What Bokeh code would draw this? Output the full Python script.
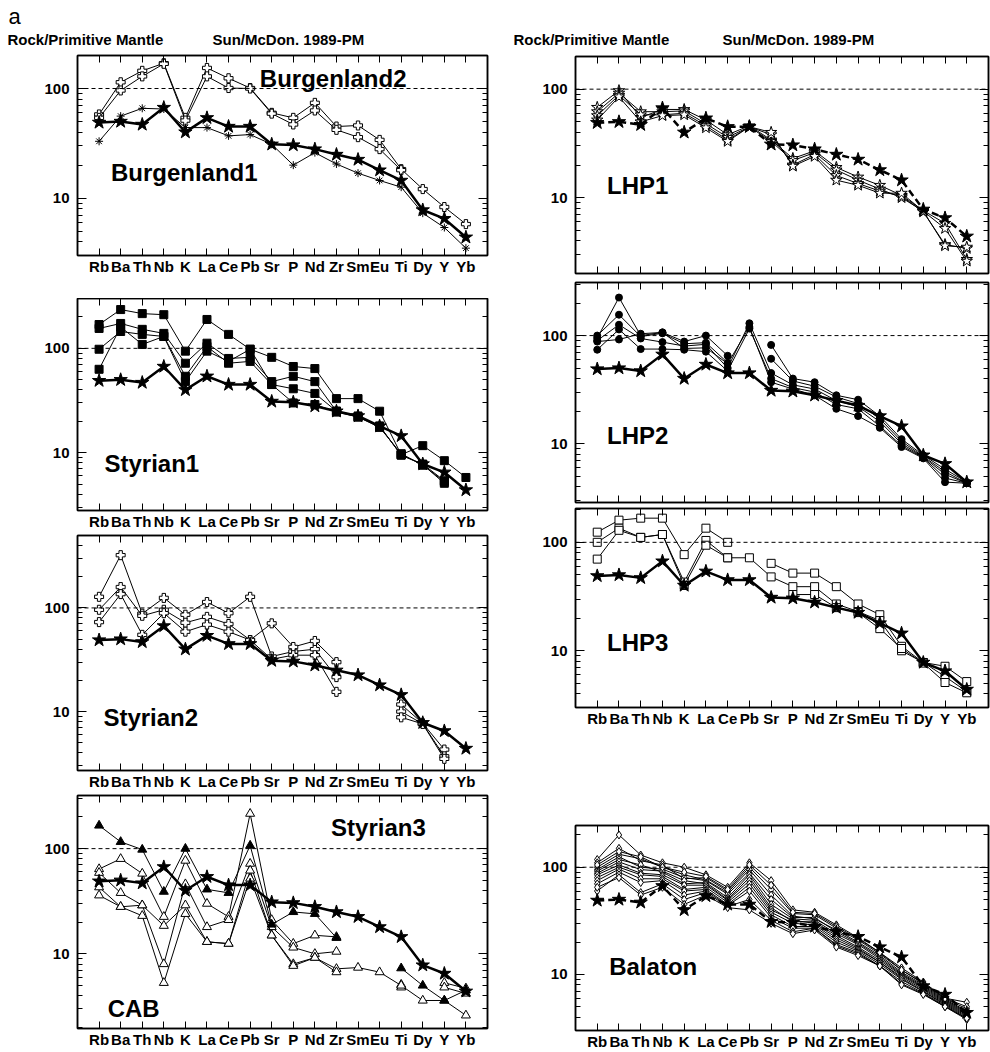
import numpy as np
from bokeh.plotting import figure
from bokeh.layouts import column, row
from bokeh.models import (Range1d, FixedTicker, LinearAxis, LogAxis,
                          CustomJSTickFormatter, BasicTickFormatter, Span)
from bokeh.core.properties import value
from bokeh.embed import file_html
from bokeh.resources import INLINE

FONT = "Liberation Sans"

ELEMENTS = ["Rb", "Ba", "Th", "Nb", "K", "La", "Ce", "Pb", "Sr", "P",
            "Nd", "Zr", "Sm", "Eu", "Ti", "Dy", "Y", "Yb"]
Y_MAJOR = [10, 100]
Y_MINOR = [2, 3, 4, 5, 6, 7, 8, 9, 20, 30, 40, 50, 60, 70, 80, 90,
           200, 300, 400, 500, 600, 700, 800, 900]

nan = float("nan")

# reference (stars, thick line) shown in every panel
REFERENCE = [49, 50, 47, 67, 40, 54, 45, 45, 31, 30.5, 28, 25, 22.5, 18, 14.5, 7.8, 6.5, 4.4]

BURGENLAND2 = [
    [58, 114, 145, 170, 54, 154, 124, 101, 60, 54, 74, 45, 46, 34, 18.4, 12.1, 8.3, 5.8],
    [54, 96, 129, 168, 51, 129, 101, 100, 59, 47, 63, 42, 36, 28, 18, nan, nan, nan],
]
BURGENLAND1 = [
    [33, 56, 66, 65, 44, 44, 37, 38, 31, 20, 26, 20.5, 16.9, 14.5, 12.6, 7.3, 5.4, 3.5],
]
STYRIAN1 = [
    [169, 235, 215, 210, 94, 189, 136, 98, 82, 67, 64, 33, 33, 25, 9.6, 11.7, 8.4, 5.8],
    [155, 173, 152, 139, 72, 112, 80, 82, 48, 54, 48, 25, 22, 18, 9.5, 7.8, 5.4, nan],
    [98, 145, 136, 130, 54, 104, 72, 75, 45, 41, 37, 25, 22.5, 18, 9.5, 7.7, 5.1, nan],
    [63, 160, 109, 130, 48, 94, 75, 98, 45, 30, 29, 24.5, 22, 17.5, 9.8, 7.6, 5.3, nan],
]
STYRIAN2 = [
    [128, 323, 88, 125, 86, 114, 89, 128, 34, 38, 40, 21.5, nan, nan, 11.7, 7.7, 4.3, nan],
    [96, 159, 84, 96, 72, 82, 70, 49, 71, 42, 48, 30, nan, nan, 10, 7.6, 3.7, nan],
    [73, 136, 55, 89, 59, 69, 59, 49, 32, 35, 35, 15.5, nan, nan, 8.8, 7.6, 3.5, nan],
]
STYRIAN3_FILLED = [
    [166, 116, 98, 39, 100, 41, 38, 107, 19, 25, 24, 14.2, nan, nan, 7.3, 5.0, 3.6, 4.5],
]
CAB_OPEN = [
    [64, 80, 58, 22.5, 77, 30, 22.5, 215, 21, 12.5, 15, 14.5, nan, nan, 5.1, nan, 5.3, 4.7],
    [59, 38, 29, 8, 46, 18, 21, 72, 18, 11.5, 10, 10.5, nan, nan, 4.8, nan, 4.8, 4.2],
    [43, 28, 29, 18.5, 29, 13, 12.5, 62, 15, 8, 9.2, 7.2, 7.4, 6.7, 5.0, 3.6, 3.6, 2.6],
    [36, 28, 23, 5.3, 24, 13, 12.5, 52, 15, 7.7, 9.2, 6.7, nan, nan, nan, nan, nan, nan],
]
LHP1 = [
    [68, 97, 55, 65, 65, 52, 38, 46, 34, 23, 27, 19, 15.5, 13, 10.5, 7.6, 5.8, 2.7],
    [62, 92, 62, 62, 63, 48, 36, 45, 33, 22, 26, 18, 14.5, 12, 10, 7.5, 5.2, 2.6],
    [57, 88, 58, 58, 60, 46, 34, 45, 38, 20, 25, 16, 13.5, 11.5, 10.3, 7.4, 3.7, 3.4],
    [52, 85, 50, 57, 58, 44, 33, 45, 40, 19.5, 24, 14.5, 13, 11, 11, 7.5, 3.6, 3.5],
]
LHP2 = [
    [95, 225, 100, 107, 88, 100, 65, nan, 82, 40, 37, 28, 25.5, 18, 11, 7.8, 5.8, 4.4],
    [100, 156, 98, 105, 84, 86, 56, nan, 61, 38, 34, 27, 23.5, 17, 10.5, 7.6, 5.5, 4.3],
    [90, 126, 94, 87, 80, 83, 50, 130, 45, 35, 32, 25, 22, 16, 10, 7.5, 5.2, 4.3],
    [74, 114, 75, 75, 74, 71, 47, 116, 40, 33, 30, 23, 21, 14.5, 9.6, 7.4, 4.8, 4.3],
    [88, 92, 104, 107, 76, 77, 55, 120, 37, 32, 28, 21, 18, 14, 9.3, 7.3, 4.4, 4.3],
]
LHP3 = [
    [124, 160, 167, 167, 77, 135, 100, nan, 64, 52, 52, 39, 27, 21.5, 11, 7.8, 7.2, 5.2],
    [100, 135, 111, 118, 43, 104, 72, 72, 48, 39, 39, 27, 23, 19, 10, 7.8, 5.8, 4.2],
    [70, 129, 111, 118, 40, 94, 72, nan, nan, 33, 33, 25, 22.5, 16, 10.5, 7.7, 5.1, 4.1],
]
BALATON = [
    [118, 200, 130, 110, 100, 85, 65, 110, 75, 40, 38, 29, 22, 16, 11.5, 8.5, 6.0, 5.5],
    [110, 150, 115, 105, 78, 80, 60, 100, 62, 37, 36, 27, 21, 15.5, 11, 8.2, 5.9, 4.8],
    [100, 132, 120, 100, 85, 76, 58, 95, 55, 35, 33, 26, 20, 15, 10.5, 8.0, 5.8, 4.6],
    [95, 125, 100, 96, 80, 75, 56, 88, 50, 34, 34, 25, 19.5, 14.5, 10.2, 7.8, 5.7, 4.5],
    [92, 118, 105, 90, 70, 72, 52, 85, 45, 33, 32, 24, 19, 14, 10, 7.6, 5.6, 4.4],
    [88, 112, 95, 92, 75, 70, 50, 80, 42, 31, 31, 23, 18, 13.5, 9.8, 7.4, 5.5, 4.3],
    [85, 105, 88, 85, 68, 68, 49, 75, 40, 32, 30, 22, 17.5, 13, 9.5, 7.2, 5.4, 4.2],
    [80, 100, 85, 82, 62, 65, 47, 70, 38, 30, 29, 21, 17, 13, 9.2, 7.0, 5.3, 4.1],
    [75, 96, 78, 78, 60, 62, 45, 65, 36, 28, 28, 20, 16.5, 12.5, 9, 6.9, 5.2, 4.0],
    [70, 90, 72, 75, 55, 60, 44, 60, 34, 27, 27, 19, 16, 12, 8.6, 6.7, 5.1, 3.9],
    [60, 85, 58, 70, 50, 58, 43, 50, 32, 25, 27, 18.5, 15.5, 12, 8.2, 6.6, 5.0, 3.8],
    [65, 80, 55, 65, 45, 55, 42, 40, 30, 24, 26, 18, 15, 12, 8, 6.5, 5.0, 3.9],
    [105, 140, 125, 100, 90, 82, 62, 105, 68, 38, 37, 28, 21.5, 16, 11, 8.3, 6.0, 5.0],
]

# panel names and where they sit (element index, value)
PANEL_NAMES = {
    "Burgenland2": (7.45, 124), "Burgenland1": (0.55, 17.1),
    "Styrian1": (0.25, 7.85), "Styrian2": (0.2, 8.75),
    "Styrian3": (10.75, 158), "CAB": (0.4, 3.0),
    "LHP1": (0.45, 12.9), "LHP2": (0.45, 11.9), "LHP3": (0.45, 11.9),
    "Balaton": (0.55, 11.9),
}

X = list(range(len(ELEMENTS)))
EMPTY = "return ''"


def panel(width, height, borders, y_lo, y_hi, xlabels):
    bl, br, bt, bb = borders
    p = figure(width=width, height=height, x_range=Range1d(-1, len(ELEMENTS)),
               y_range=Range1d(y_lo, y_hi), y_axis_type="log",
               toolbar_location=None, output_backend="svg",
               min_border_left=bl, min_border_right=br,
               min_border_top=bt, min_border_bottom=bb)
    p.grid.visible = False
    p.outline_line_color = "black"
    p.outline_line_width = 1.5
    p.background_fill_color = "white"
    p.border_fill_color = "white"

    xa = p.xaxis[0]
    xa.ticker = FixedTicker(ticks=X)
    xa.major_tick_in = 7
    xa.major_tick_out = 0
    xa.minor_tick_line_color = None
    xa.axis_line_width = 1.5
    if xlabels:
        xa.major_label_overrides = {i: e for i, e in enumerate(ELEMENTS)}
        xa.major_label_text_font = FONT
        xa.major_label_text_font_style = "bold"
        xa.major_label_text_font_size = "15px"
        xa.major_label_standoff = 2
        xa.major_label_text_color = "black"
    else:
        xa.formatter = CustomJSTickFormatter(code=EMPTY)
        xa.major_label_text_font_size = "1px"
        xa.major_label_standoff = 0

    ya = p.yaxis[0]
    ya.ticker = FixedTicker(ticks=Y_MAJOR, minor_ticks=Y_MINOR)
    ya.formatter = BasicTickFormatter(use_scientific=False)
    ya.major_tick_in = 9
    ya.major_tick_out = 0
    ya.minor_tick_in = 5
    ya.minor_tick_out = 0
    ya.axis_line_width = 1.5
    ya.major_label_text_font = FONT
    ya.major_label_text_font_style = "bold"
    ya.major_label_text_font_size = "15px"
    ya.major_label_standoff = 8
    ya.major_label_text_color = "black"

    top = LinearAxis(ticker=FixedTicker(ticks=X),
                     formatter=CustomJSTickFormatter(code=EMPTY),
                     major_tick_in=7, major_tick_out=0,
                     minor_tick_line_color=None, axis_line_width=1.5,
                     major_label_text_font_size="1px", major_label_standoff=0)
    p.add_layout(top, "above")
    right = LogAxis(ticker=FixedTicker(ticks=Y_MAJOR, minor_ticks=Y_MINOR),
                    formatter=CustomJSTickFormatter(code=EMPTY),
                    major_tick_in=9, major_tick_out=0,
                    minor_tick_in=5, minor_tick_out=0, axis_line_width=1.5,
                    major_label_text_font_size="1px", major_label_standoff=0)
    p.add_layout(right, "right")

    p.add_layout(Span(location=100, dimension="width", line_color="black",
                      line_width=1, line_dash="4 3"))
    return p


def add_series(p, series, marker, size, fill):
    for vals in series:
        p.line(X, vals, line_color="black", line_width=1)
        p.scatter(X, vals, marker=marker, size=size, fill_color=fill,
                  line_color="black", line_width=1)


def add_reference(p, dashed=False):
    p.line(X, REFERENCE, line_color="black", line_width=2.5,
           line_dash="7 4" if dashed else "solid")
    p.scatter(X, REFERENCE, marker="star", size=14, fill_color="black",
              line_color="black")


def add_name(p, name):
    x, y = PANEL_NAMES[name]
    p.text(x=[x], y=[y], text=[name], text_font=value(FONT),
           text_font_style="bold", text_font_size="24px",
           text_align="left", text_baseline="middle", text_color="black")


LW, RW = 500, 490
LB = (77, 13)
RB = (75, 2)
HH = 54   # header height

# left column
L1 = panel(LW, 298 - HH, LB + (55 - HH, 43), 3, 200, True)
add_series(L1, BURGENLAND2, "plus", 9, "white")
add_series(L1, BURGENLAND1, "asterisk", 8, "black")
add_reference(L1)
add_name(L1, "Burgenland2")
add_name(L1, "Burgenland1")

L2 = panel(LW, 234, LB + (0, 22), 2.8, 300, True)
add_series(L2, STYRIAN1, "square", 8, "black")
add_reference(L2)
add_name(L2, "Styrian1")

L3 = panel(LW, 260, LB + (3, 21), 2.7, 500, True)
add_series(L3, STYRIAN2, "plus", 9, "white")
add_reference(L3)
add_name(L3, "Styrian2")

L4 = panel(LW, 260, LB + (3, 24), 1.95, 320, True)
add_series(L4, CAB_OPEN, "triangle", 9, "white")
add_series(L4, STYRIAN3_FILLED, "triangle", 9, "black")
add_reference(L4)
add_name(L4, "Styrian3")
add_name(L4, "CAB")

# right column
R1 = panel(RW, 279 - HH, RB + (56 - HH, 6), 2.0, 200, False)
add_series(R1, LHP1, "star", 12, "white")
add_reference(R1, dashed=True)
add_name(R1, "LHP1")

R2 = panel(RW, 226, RB + (3, 3), 2.85, 310, False)
add_series(R2, LHP2, "circle", 7, "black")
add_reference(R2)
add_name(R2, "LHP2")

R3 = panel(RW, 232, RB + (3, 30), 3.0, 205, True)
add_series(R3, LHP3, "square", 8, "white")
add_reference(R3)
add_name(R3, "LHP3")

R4 = panel(RW, 315, RB + (88, 21), 3.0, 245, True)
add_series(R4, BALATON, "diamond", 8, "white")
add_reference(R4, dashed=True)
add_name(R4, "Balaton")

# header
HEADER_TEXTS = ["Rock/Primitive Mantle", "Sun/McDon. 1989-PM",
                "Rock/Primitive Mantle", "Sun/McDon. 1989-PM"]
HW = LW + RW
hdr = figure(width=HW, height=HH, x_range=Range1d(0, HW),
             y_range=Range1d(HH, 0), x_axis_type=None, y_axis_type=None,
             toolbar_location=None, output_backend="svg", min_border=0,
             title=None)
hdr.outline_line_color = None
hdr.grid.visible = False
hdr.text(x=[8], y=[16], text=["a"], text_font=value(FONT),
         text_font_size="22px", text_baseline="middle", text_align="left")
hdr.text(x=[7, 212, 513, 722], y=[39] * 4, text=HEADER_TEXTS,
         text_font=value(FONT), text_font_style="bold", text_font_size="15px",
         text_baseline="middle", text_align="left")

layout = column(hdr, row(column(L1, L2, L3, L4), column(R1, R2, R3, R4)))

open("out.html", "w").write(file_html(layout, INLINE))
